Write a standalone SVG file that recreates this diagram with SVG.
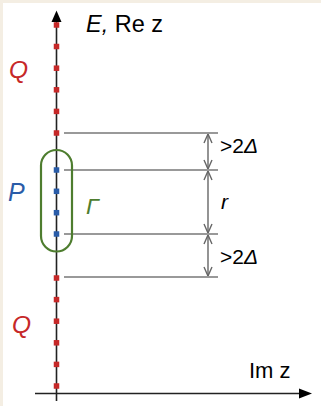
<svg xmlns="http://www.w3.org/2000/svg" width="321" height="406" viewBox="0 0 321 406">
<style>
.ax{stroke:#222;stroke-width:1.6;fill:none}
.hl{stroke:#777;stroke-width:1.5}
.dim{stroke:#666;stroke-width:1.4;fill:none}
.rq{fill:#c62828}
.bq{fill:#2a5ca8}
text{font-family:"Liberation Sans",Arial,sans-serif}
.it{font-style:italic}
</style>
<defs>
<marker id="ah" viewBox="0 0 10 10" refX="10" refY="5" markerWidth="10" markerHeight="10" markerUnits="userSpaceOnUse" orient="auto-start-reverse">
<path d="M1,1 L10,5 L1,9" fill="none" stroke="#666" stroke-width="1.4"/>
</marker>
</defs>
<rect width="321" height="406" fill="#f4eee3"/>
<rect x="3" y="3" width="318" height="403" fill="#fff"/>
<g id="axes">
<line class="ax" x1="56.5" y1="20" x2="56.5" y2="401"/>
<path d="M56.5,10.5 L61.5,22 L51.5,22 Z" fill="#000"/>
<line class="ax" x1="35" y1="393.5" x2="301" y2="393.5"/>
<path d="M312,393.5 L299,388.5 L299,398.5 Z" fill="#000"/>
</g>
<g id="connectors">
<line class="hl" x1="64" y1="133" x2="218" y2="133"/>
<line class="hl" x1="64" y1="170" x2="218" y2="170"/>
<line class="hl" x1="64" y1="234" x2="218" y2="234"/>
<line class="hl" x1="64" y1="277" x2="218" y2="277"/>
<line class="dim" x1="208" y1="134" x2="208" y2="169" marker-start="url(#ah)" marker-end="url(#ah)"/>
<line class="dim" x1="208" y1="171" x2="208" y2="233" marker-start="url(#ah)" marker-end="url(#ah)"/>
<line class="dim" x1="208" y1="235" x2="208" y2="276" marker-start="url(#ah)" marker-end="url(#ah)"/>
</g>
<g id="Q-upper">
<rect class="rq" x="53.75" y="22.25" width="5.5" height="5.5"/>
<rect class="rq" x="53.75" y="43.75" width="5.5" height="5.5"/>
<rect class="rq" x="53.75" y="65.45" width="5.5" height="5.5"/>
<rect class="rq" x="53.75" y="87.05" width="5.5" height="5.5"/>
<rect class="rq" x="53.75" y="108.65" width="5.5" height="5.5"/>
<rect class="rq" x="53.75" y="130.25" width="5.5" height="5.5"/>
<text x="9" y="78" font-size="24.5" fill="#c62828" class="it">Q</text>
</g>
<g id="P">
<rect class="bq" x="53.75" y="167.25" width="5.5" height="5.5"/>
<rect class="bq" x="53.75" y="188.55" width="5.5" height="5.5"/>
<rect class="bq" x="53.75" y="209.95" width="5.5" height="5.5"/>
<rect class="bq" x="53.75" y="231.25" width="5.5" height="5.5"/>
<text x="8" y="201" font-size="25" fill="#2a5ca8" class="it">P</text>
</g>
<g id="Gamma">
<rect x="41" y="150" width="31" height="101.5" rx="15.5" fill="none" stroke="#4e7d2f" stroke-width="2.2"/>
<text x="86" y="214" font-size="23" fill="#4e7d2f" class="it">Γ</text>
</g>
<g id="Q-lower">
<rect class="rq" x="53.75" y="275.25" width="5.5" height="5.5"/>
<rect class="rq" x="53.75" y="296.85" width="5.5" height="5.5"/>
<rect class="rq" x="53.75" y="318.45" width="5.5" height="5.5"/>
<rect class="rq" x="53.75" y="340.05" width="5.5" height="5.5"/>
<rect class="rq" x="53.75" y="361.65" width="5.5" height="5.5"/>
<rect class="rq" x="53.75" y="383.25" width="5.5" height="5.5"/>
<text x="12" y="333" font-size="24.5" fill="#c62828" class="it">Q</text>
</g>
<g id="labels">
<text x="86" y="32" font-size="23.5" fill="#000"><tspan class="it">E,</tspan> Re z</text>
<text x="249" y="378" font-size="22" fill="#000">Im z</text>
<text x="220" y="153" font-size="21" fill="#000">&gt;2<tspan class="it">Δ</tspan></text>
<text x="221" y="209" font-size="21" fill="#000" class="it">r</text>
<text x="220" y="264" font-size="21" fill="#000">&gt;2<tspan class="it">Δ</tspan></text>
</g>
</svg>
